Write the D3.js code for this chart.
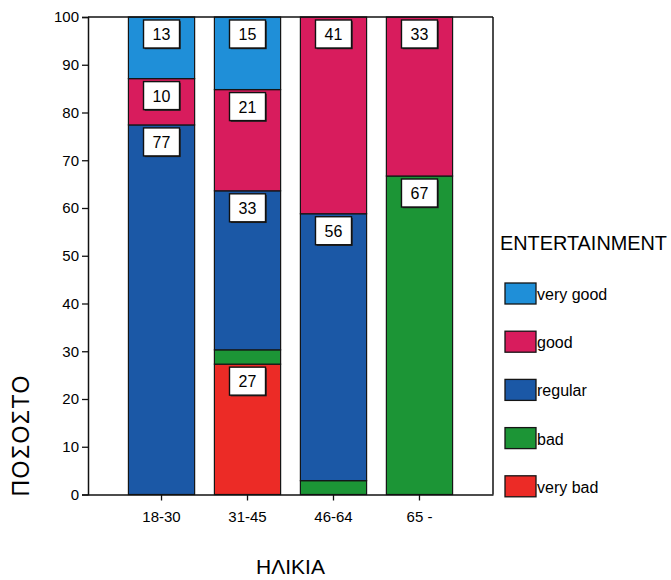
<!DOCTYPE html>
<html>
<head>
<meta charset="utf-8">
<script src="https://cdn.jsdelivr.net/npm/d3@7"></script>
<style>
  html, body { margin: 0; padding: 0; background: #fff; }
  svg { display: block; font-family: "Liberation Sans", Arial, sans-serif; }
</style>
</head>
<body>
<svg id="chart" width="671" height="580"></svg>
<script>
// ---- data ----
const categories = ["18-30", "31-45", "46-64", "65 -"];
const seriesNames = ["very bad", "bad", "regular", "good", "very good"];
const veryBad  = [0,    27.3, 0,    0];
const bad      = [0,    3.0,  2.9,  66.7];
const regular  = [77.4, 33.3, 55.9, 0];
const good     = [9.7,  21.2, 41.2, 33.3];
const veryGood = [12.9, 15.2, 0,    0];
const yTicks = [0, 10, 20, 30, 40, 50, 60, 70, 80, 90, 100];
const xTitle = "ΗΛΙΚΙΑ";
const yTitle = "ΠΟΣΟΣΤΟ";
const legendTitle = "ENTERTAINMENT";
const colors = ["#ec2b26", "#1c9536", "#1b58a6", "#d81c5d", "#1f8fd8"];

const seriesValues = [veryBad, bad, regular, good, veryGood];
const rows = categories.map((c, i) => {
  const r = { cat: c };
  seriesNames.forEach((s, j) => r[s] = seriesValues[j][i]);
  return r;
});

const svg = d3.select("#chart");
const pLeft = 88, pRight = 493, pTop = 17, pBottom = 494.5;

const x = d3.scaleBand().domain(categories).range([pLeft, pRight])
  .paddingInner(0.23).paddingOuter(0.47);
const y = d3.scaleLinear().domain([0, 100]).range([pBottom, pTop]);
const color = d3.scaleOrdinal().domain(seriesNames).range(colors);

const stacked = d3.stack().keys(seriesNames)(rows);

// bars
const g = svg.append("g");
stacked.forEach(layer => {
  g.selectAll(null).data(layer.filter(d => d[1] - d[0] > 0)).enter()
    .append("rect")
    .attr("x", d => x(d.data.cat))
    .attr("width", x.bandwidth())
    .attr("y", d => y(d[1]))
    .attr("height", d => y(d[0]) - y(d[1]))
    .attr("fill", color(layer.key))
    .attr("stroke", "#151515")
    .attr("stroke-width", 1.2);
});

// frame
svg.append("line").attr("x1", pLeft).attr("x2", pRight).attr("y1", pTop).attr("y2", pTop)
  .attr("stroke", "#111").attr("stroke-width", 1.5);
svg.append("line").attr("x1", pRight).attr("x2", pRight).attr("y1", pTop).attr("y2", pBottom)
  .attr("stroke", "#111").attr("stroke-width", 1.5);

// axes
const yAxis = d3.axisLeft(y).tickValues(yTicks).tickSize(6).tickPadding(3);
const ya = svg.append("g").attr("transform", `translate(${pLeft},0)`).call(yAxis);
ya.select(".domain").attr("stroke", "#111").attr("stroke-width", 1.5);
ya.selectAll(".tick line").attr("stroke", "#111").attr("stroke-width", 1.3);
ya.selectAll(".tick text").attr("font-size", 15).attr("fill", "#000")
  .attr("font-family", "'Liberation Sans', Arial, sans-serif");

const xAxis = d3.axisBottom(x).tickSize(6).tickPadding(11).tickSizeOuter(0);
const xa = svg.append("g").attr("transform", `translate(0,${pBottom})`).call(xAxis);
xa.select(".domain").attr("stroke", "#111").attr("stroke-width", 1.5);
xa.selectAll(".tick line").attr("stroke", "#111").attr("stroke-width", 1.3);
xa.selectAll(".tick text").attr("font-size", 15).attr("fill", "#000")
  .attr("font-family", "'Liberation Sans', Arial, sans-serif");

// value labels
const boxW = 36, boxH = 28;
stacked.forEach(layer => {
  layer.filter(d => d[1] - d[0] >= 5).forEach(d => {
    const cx = x(d.data.cat) + x.bandwidth() / 2;
    const ty = y(d[1]) + 3;
    svg.append("rect").attr("x", cx - boxW / 2 + 1.2).attr("y", ty + 1.2)
      .attr("width", boxW).attr("height", boxH).attr("fill", "#222");
    svg.append("rect").attr("x", cx - boxW / 2).attr("y", ty)
      .attr("width", boxW).attr("height", boxH)
      .attr("fill", "#fff").attr("stroke", "#111").attr("stroke-width", 1.4);
    svg.append("text").attr("x", cx).attr("y", ty + 20)
      .attr("text-anchor", "middle").attr("font-size", 16).attr("fill", "#000")
      .text(Math.round(d[1] - d[0]));
  });
});

// axis titles
svg.append("text").attr("x", (pLeft + pRight) / 2).attr("y", 574)
  .attr("text-anchor", "middle").attr("font-size", 21).attr("fill", "#000")
  .text(xTitle);
svg.append("text").attr("transform", "translate(29,436) rotate(-90)")
  .attr("text-anchor", "middle").attr("font-size", 23).attr("fill", "#000")
  .attr("textLength", 121).attr("lengthAdjust", "spacing")
  .text(yTitle);

// legend
svg.append("text").attr("x", 500).attr("y", 250)
  .attr("font-size", 20).attr("fill", "#000")
  .attr("textLength", 167).attr("lengthAdjust", "spacingAndGlyphs")
  .text(legendTitle);
const legendOrder = seriesNames.slice().reverse();
const lg = svg.append("g");
legendOrder.forEach((s, i) => {
  const yy = 283 + i * 48.2;
  lg.append("rect").attr("x", 505).attr("y", yy).attr("width", 31).attr("height", 21)
    .attr("fill", color(s)).attr("stroke", "#151515").attr("stroke-width", 1.3);
  lg.append("text").attr("x", 537).attr("y", yy + 17)
    .attr("font-size", 16).attr("fill", "#000").text(s);
});
</script>
</body>
</html>
